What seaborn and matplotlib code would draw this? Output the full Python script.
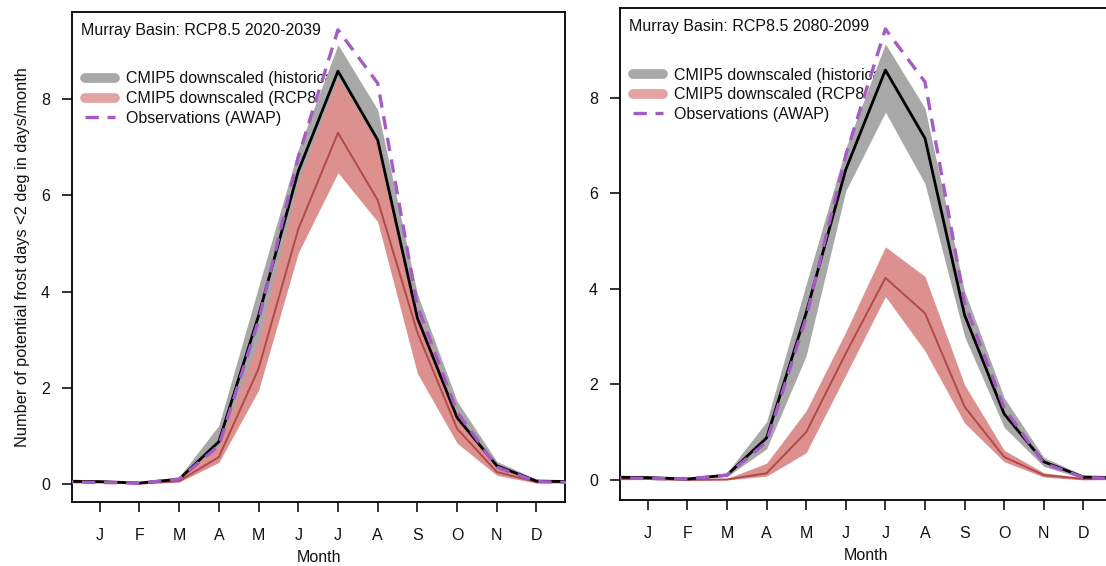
import numpy as np
import pandas as pd
import matplotlib
matplotlib.use("Agg")
import matplotlib.pyplot as plt
from matplotlib.lines import Line2D
import seaborn as sns

months = ["J", "F", "M", "A", "M", "J", "J", "A", "S", "O", "N", "D"]

# Historical CMIP5 downscaled (same in both panels)
hist_mean = [0.05, 0.02, 0.10, 0.88, 3.50, 6.50, 8.58, 7.15, 3.45, 1.38, 0.38, 0.06]
hist_lo   = [0.03, 0.01, 0.07, 0.65, 2.60, 6.05, 7.70, 6.20, 3.00, 1.10, 0.28, 0.03]
hist_hi   = [0.07, 0.04, 0.15, 1.22, 4.10, 6.95, 9.13, 7.78, 3.95, 1.72, 0.47, 0.10]

# Observations (AWAP)
obs = [0.03, 0.02, 0.10, 0.80, 3.40, 6.80, 9.44, 8.33, 3.70, 1.50, 0.35, 0.05]

# RCP8.5 2020-2039
rcp_early_mean = [0.04, 0.01, 0.06, 0.56, 2.40, 5.30, 7.30, 5.90, 3.15, 1.15, 0.25, 0.04]
rcp_early_lo   = [0.02, 0.00, 0.04, 0.45, 1.95, 4.80, 6.47, 5.45, 2.30, 0.85, 0.18, 0.02]
rcp_early_hi   = [0.06, 0.03, 0.10, 0.80, 3.00, 6.30, 8.45, 7.10, 3.60, 1.45, 0.33, 0.07]

# RCP8.5 2080-2099
rcp_late_mean = [0.02, 0.00, 0.01, 0.14, 1.00, 2.65, 4.23, 3.49, 1.53, 0.48, 0.10, 0.02]
rcp_late_lo   = [0.01, 0.00, 0.00, 0.08, 0.57, 2.20, 3.84, 2.70, 1.19, 0.38, 0.06, 0.00]
rcp_late_hi   = [0.04, 0.02, 0.03, 0.35, 1.45, 3.10, 4.88, 4.26, 1.99, 0.62, 0.15, 0.05]

titles = ["Murray Basin: RCP8.5 2020-2039", "Murray Basin: RCP8.5 2080-2099"]
legend_labels = ["CMIP5 downscaled (historical)", "CMIP5 downscaled (RCP8.5)", "Observations (AWAP)"]

sns.set_style("white")
plt.rcParams["font.family"] = ["Liberation Sans", "DejaVu Sans"]
plt.rcParams["font.size"] = 11.5
plt.rcParams["text.color"] = "#111111"
plt.rcParams["axes.labelcolor"] = "#111111"
plt.rcParams["xtick.color"] = "#111111"
plt.rcParams["ytick.color"] = "#111111"

GREY = "#A8A8A8"
PINK = "#DC918E"
DARKRED = "#B04A4A"
PURPLE = "#A45CC4"


def wrap(vals):
    # cyclic extension: Dec before Jan, Jan after Dec
    return [vals[-1]] + list(vals) + [vals[0]]


xpos = list(range(0, 14))

fig = plt.figure(figsize=(11.06, 5.66), dpi=100)
ax1 = fig.add_axes([0.0651, 0.1131, 0.4458, 0.8657])
ax2 = fig.add_axes([0.5606, 0.1166, 0.4448, 0.8693])

panels = [
    (ax1, rcp_early_mean, rcp_early_lo, rcp_early_hi, (-0.374, 9.81)),
    (ax2, rcp_late_mean, rcp_late_lo, rcp_late_hi, (-0.42, 9.88)),
]

for i, (ax, rm, rl, rh, ylim) in enumerate(panels):
    df = pd.DataFrame({
        "x": xpos,
        "hist": wrap(hist_mean),
        "hist_lo": wrap(hist_lo),
        "hist_hi": wrap(hist_hi),
        "obs": wrap(obs),
        "rcp": wrap(rm),
        "rcp_lo": wrap(rl),
        "rcp_hi": wrap(rh),
    })
    ax.fill_between(df["x"], df["hist_lo"], df["hist_hi"], color=GREY, lw=0, zorder=2)
    ax.fill_between(df["x"], df["rcp_lo"], df["rcp_hi"], color=PINK, lw=0, zorder=3)
    sns.lineplot(data=df, x="x", y="rcp", ax=ax, color=DARKRED, lw=1.4, zorder=4)
    sns.lineplot(data=df, x="x", y="hist", ax=ax, color="black", lw=2.0, zorder=5)
    sns.lineplot(data=df, x="x", y="obs", ax=ax, color=PURPLE, lw=2.4, zorder=6,
                 dashes=False, linestyle=(0, (4, 2.6)))

    ax.set_xlim(0.3, 12.72)
    ax.set_ylim(*ylim)
    ax.set_xticks(range(1, 13))
    ax.set_xticklabels(months)
    ax.set_yticks([0, 2, 4, 6, 8])
    ax.tick_params(axis="x", direction="out", length=7, width=1.2, pad=12, labelsize=11.5)
    ax.tick_params(axis="y", direction="out", length=7, width=1.2, pad=9, labelsize=11.5)
    ax.tick_params(bottom=True, left=True)
    for s in ax.spines.values():
        s.set_visible(True)
        s.set_color("black")
        s.set_linewidth(1.3)
    ax.set_xlabel("Month", fontsize=11.5, labelpad=5)
    if i == 0:
        ax.set_ylabel("Number of potential frost days <2 deg in days/month", fontsize=11.8, labelpad=8)
    else:
        ax.set_ylabel("")

    ax.text(0.018, 0.963, titles[i], transform=ax.transAxes, ha="left", va="center",
            fontsize=11.5, zorder=1)

    handles = [
        Line2D([0], [0], color=GREY, lw=7, solid_capstyle="round"),
        Line2D([0], [0], color="#E3A3A0", lw=7, solid_capstyle="round"),
        Line2D([0], [0], color=PURPLE, lw=2.4, linestyle=(0, (4, 2.6))),
    ]
    leg = ax.legend(handles, legend_labels, loc="upper left", bbox_to_anchor=(0.0, 0.905),
                    frameon=False, fontsize=11.5, handlelength=1.9, handletextpad=0.7,
                    labelspacing=0.3, borderaxespad=0.4)
    leg.set_zorder(1)

fig.savefig("out.png", dpi=100)
